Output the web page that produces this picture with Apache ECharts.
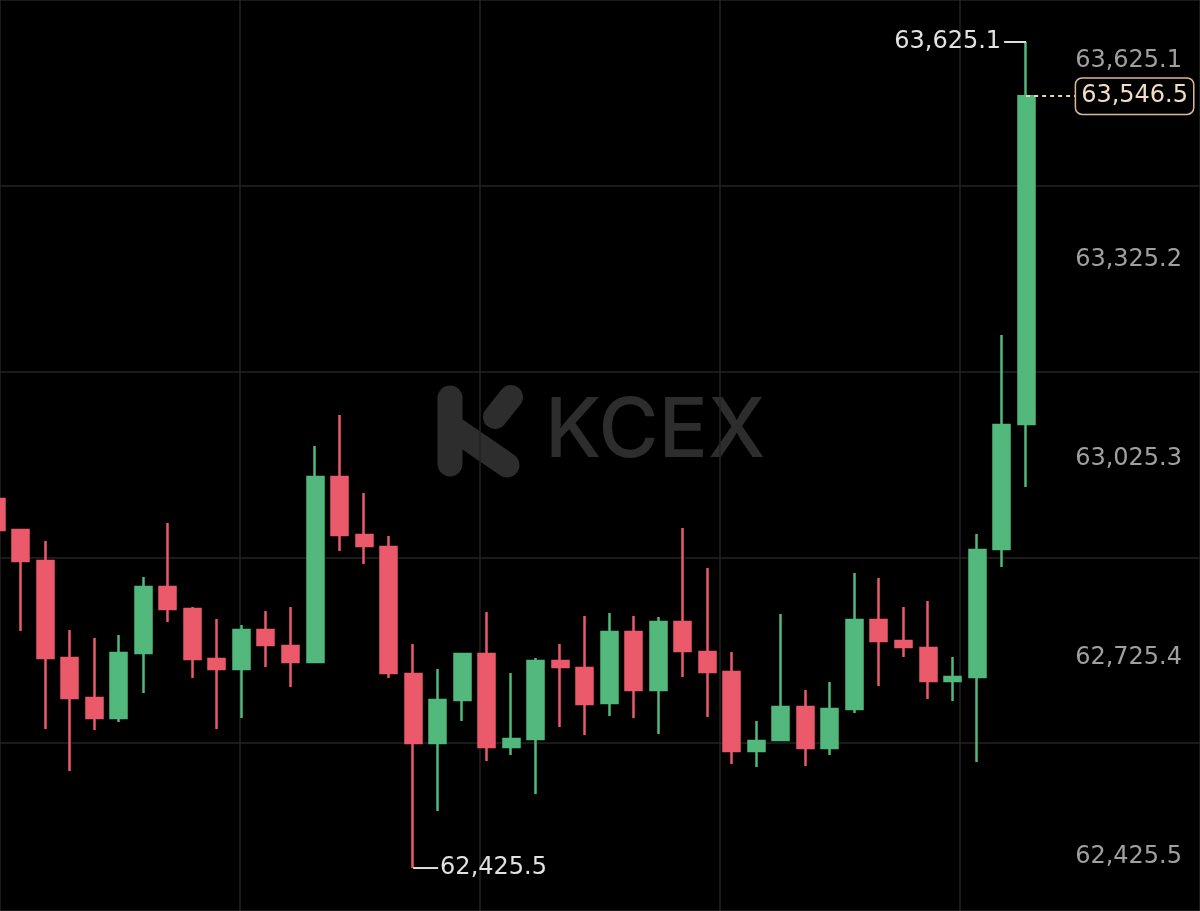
<!DOCTYPE html>
<html>
<head>
<meta charset="utf-8">
<title>KCEX candles</title>
<script src="https://cdn.jsdelivr.net/npm/echarts@6/dist/echarts.min.js"></script>
<style>
  html, body { margin: 0; padding: 0; background: #000; overflow: hidden; }
  body { position: relative; width: 1200px; height: 911px; }
  /* the candle row bleeds 16px off the left edge like the screenshot */
  #chart { position: absolute; left: -16px; top: 0; width: 1226px; height: 911px; }
</style>
</head>
<body>
<div id="chart"></div>
<script>
// candle slots (43 candles drawn, rest of the row left empty on the right)
const slots = Array.from({ length: 50 }, (_, i) => String(i))

const opens = [
  62961.4, 62916.4, 62871.4, 62730.5, 62672.4, 62643.3, 62737.7, 62833.6, 62801.6, 62729.0,
  62714.5, 62771.2, 62747.9, 62724.7, 62993.3, 62909.1, 62891.7, 62707.2, 62607.0, 62669.5,
  62736.3, 62601.2, 62612.8, 62726.1, 62716.0, 62665.1, 62768.2, 62684.0, 62782.8, 62739.2,
  62710.1, 62595.4, 62611.4, 62659.3, 62599.8, 62656.4, 62785.7, 62755.2, 62745.0, 62697.1,
  62702.9, 62888.8, 63070.3,
]
const closes = [
  62916.4, 62871.4, 62730.5, 62672.4, 62643.3, 62737.7, 62833.6, 62801.6, 62729.0, 62714.5,
  62771.2, 62749.4, 62724.7, 62993.3, 62909.1, 62893.1, 62708.7, 62607.0, 62669.5, 62736.3,
  62601.2, 62612.8, 62726.1, 62717.4, 62663.7, 62768.2, 62684.0, 62782.8, 62740.6, 62710.1,
  62595.4, 62609.9, 62659.3, 62599.8, 62656.4, 62785.7, 62755.2, 62746.5, 62697.1, 62702.9,
  62887.3, 63068.9, 63546.5,
]
const lows = [
  62913.5, 62769.7, 62627.4, 62566.4, 62625.9, 62637.5, 62679.7, 62782.8, 62701.4, 62627.4,
  62643.3, 62717.4, 62688.4, 62723.2, 62885.9, 62867.0, 62701.4, 62425.5, 62508.3, 62639.0,
  62580.9, 62589.6, 62533.0, 62630.3, 62618.7, 62646.2, 62643.3, 62620.1, 62702.9, 62644.8,
  62576.5, 62572.2, 62609.9, 62573.6, 62589.6, 62650.6, 62689.8, 62731.9, 62670.9, 62668.0,
  62579.4, 62862.6, 62978.8,
]
const highs = [
  62967.2, 62917.8, 62900.4, 62771.2, 62759.5, 62763.9, 62848.1, 62926.5, 62804.6, 62787.1,
  62778.4, 62798.7, 62804.6, 63038.4, 63083.4, 62970.1, 62907.7, 62750.8, 62714.5, 62737.7,
  62797.3, 62708.7, 62730.5, 62750.8, 62791.5, 62795.8, 62791.5, 62790.0, 62919.3, 62861.2,
  62739.2, 62639.0, 62794.4, 62684.0, 62695.6, 62853.9, 62846.7, 62804.6, 62813.3, 62731.9,
  62910.6, 63199.6, 63625.1,
]

// price labels printed on the right edge
const priceTicks = [62425.5, 62725.4, 63025.3, 63325.2, 63625.1]

const UP = '#52b87c'
const DOWN = '#ea5a6b'
const FONT = 'DejaVu Sans'
const WM = '#2d2d2d'
const SHIFT = 16 // chart div starts 16px left of the page

const candles = opens.map((o, i) => [o, closes[i], lows[i], highs[i]])
const lastIdx = candles.length - 1
const lastClose = closes[lastIdx]

function fmt(v) {
  return Number(v).toLocaleString('en-US', { minimumFractionDigits: 1, maximumFractionDigits: 1 })
}

const chart = echarts.init(document.getElementById('chart'))

chart.setOption({
  backgroundColor: '#000',
  animation: false,
  grid: [
    // candle area
    { left: 0, right: 0, top: 0, bottom: 0 },
    // background lines + right hand price labels, over the visible page
    { left: SHIFT, right: 10, top: 0, bottom: 0 },
  ],
  xAxis: [
    {
      type: 'category',
      gridIndex: 0,
      data: slots,
      boundaryGap: true,
      show: false,
    },
    {
      type: 'value',
      gridIndex: 1,
      min: 0,
      max: 5,
      interval: 1,
      axisLine: { show: false },
      axisTick: { show: false },
      axisLabel: { show: false },
      splitLine: { show: true, lineStyle: { color: '#232323', width: 1.5 } },
    },
  ],
  yAxis: [
    {
      type: 'value',
      gridIndex: 0,
      min: 62363.1,
      max: 63686.1,
      show: false,
    },
    {
      type: 'value',
      gridIndex: 1,
      position: 'left',
      inverse: true,
      min: 0,
      max: 4.903,
      interval: 1,
      axisLine: { show: false },
      axisTick: { show: false },
      axisLabel: { show: false },
      splitLine: { show: true, lineStyle: { color: '#232323', width: 1.5 } },
    },
    {
      type: 'value',
      gridIndex: 1,
      position: 'right',
      min: 62344.1,
      max: 63717.0,
      axisLine: { show: false },
      axisTick: { show: false },
      splitLine: { show: false },
      axisLabel: {
        inside: true,
        margin: 18,
        customValues: priceTicks,
        formatter: fmt,
        color: '#a0a0a0',
        fontSize: 24,
        fontFamily: FONT,
      },
    },
  ],
  graphic: [
    {
      type: 'group',
      x: SHIFT,
      z: 0,
      silent: true,
      children: [
        {
          type: 'polyline',
          shape: { points: [[450, 398], [450, 464]] },
          style: { stroke: WM, lineWidth: 25, lineCap: 'round', fill: null },
        },
        {
          type: 'polyline',
          shape: { points: [[456, 430], [507, 465]] },
          style: { stroke: WM, lineWidth: 25, lineCap: 'round', lineJoin: 'round', fill: null },
        },
        {
          type: 'polyline',
          shape: { points: [[495, 417], [511, 397]] },
          style: { stroke: WM, lineWidth: 24, lineCap: 'round', fill: null },
        },
        {
          type: 'text',
          x: 545,
          y: 432,
          style: {
            text: 'KCEX',
            fill: WM,
            font: '500 82px Inter',
            verticalAlign: 'middle',
          },
        },
      ],
    },
  ],
  series: [
    {
      type: 'candlestick',
      xAxisIndex: 0,
      yAxisIndex: 0,
      data: candles,
      barWidth: 16.5,
      itemStyle: {
        color: UP,
        color0: DOWN,
        borderColor: UP,
        borderColor0: DOWN,
        borderWidth: 2.5,
      },
      markPoint: {
        silent: true,
        data: [
          {
            type: 'max',
            valueDim: 'highest',
            symbol: 'rect',
            symbolSize: [22, 2],
            symbolOffset: [-11, 0],
            label: { position: 'left', distance: 3 },
          },
          {
            type: 'min',
            valueDim: 'lowest',
            symbol: 'rect',
            symbolSize: [25, 2],
            symbolOffset: [12.5, 0],
            label: { position: 'right', distance: 2 },
          },
        ],
        itemStyle: { color: '#dedede' },
        label: {
          show: true,
          formatter: (p) => fmt(p.value),
          color: '#e2e2e2',
          fontSize: 24,
          fontFamily: FONT,
        },
      },
      markLine: {
        silent: true,
        symbol: 'none',
        lineStyle: { color: '#e8d4bc', type: [4, 4], width: 2 },
        label: {
          show: true,
          position: 'end',
          distance: 1,
          formatter: () => fmt(lastClose),
          color: '#f2ddc4',
          fontSize: 24,
          fontFamily: FONT,
          backgroundColor: '#000',
          borderColor: '#d9b99a',
          borderWidth: 1.5,
          borderRadius: 6,
          padding: [6, 5, 5, 5],
        },
        data: [
          [
            { coord: [lastIdx, lastClose] },
            { coord: [lastIdx + 2, lastClose] },
          ],
        ],
      },
    },
  ],
})
</script>
</body>
</html>
